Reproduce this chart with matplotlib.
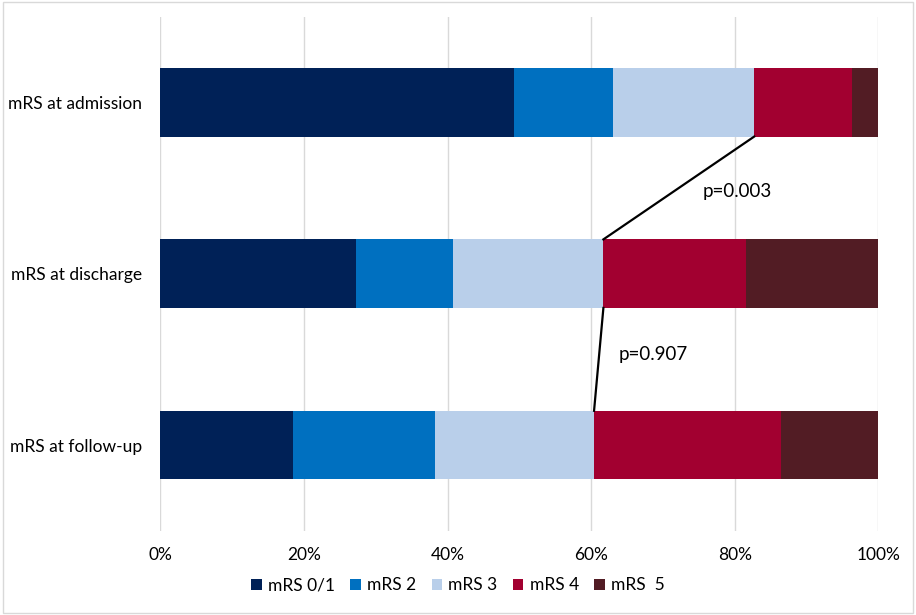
import numpy as np
import matplotlib
matplotlib.use("Agg")
import matplotlib.pyplot as plt
from matplotlib.patches import Rectangle

plt.rcParams['font.family'] = ['Lato', 'DejaVu Sans']

# ---- data (percent of patients per mRS grade) ----
stages = ["mRS at admission", "mRS at discharge", "mRS at follow-up"]
grades = ["mRS 0/1", "mRS 2", "mRS 3", "mRS 4", "mRS  5"]
colors = ["#002157", "#0070C0", "#B9CFEA", "#A20030", "#521C24"]

mrs01 = [49.3, 27.2, 18.5]
mrs2 = [13.7, 13.5, 19.8]
mrs3 = [19.7, 21.0, 22.1]
mrs4 = [13.6, 19.8, 26.0]
mrs5 = [3.7, 18.5, 13.6]

p_values = ["p=0.003", "p=0.907"]

series = [mrs01, mrs2, mrs3, mrs4, mrs5]

fig = plt.figure(figsize=(9.16, 6.15), dpi=100)
ax = fig.add_axes([0.175, 0.137, 0.784, 0.836])

y = np.arange(len(stages))
bar_h = 0.4
left = np.zeros(len(stages))
for vals, name, col in zip(series, grades, colors):
    ax.barh(y, vals, left=left, height=bar_h, color=col, label=name, zorder=2)
    left += np.array(vals)

# connector lines at the mRS 3 / mRS 4 boundary
split = np.array(mrs01) + np.array(mrs2) + np.array(mrs3)
for i in range(len(stages) - 1):
    ax.plot([split[i], split[i + 1]], [y[i] + bar_h / 2, y[i + 1] - bar_h / 2],
            color="black", lw=1.6, zorder=3)

ax.text(80.4, 0.52, p_values[0], fontsize=13.5, ha="center", va="center")
ax.text(68.6, 1.47, p_values[1], fontsize=13.5, ha="center", va="center")

ax.set_xlim(0, 100)
ax.set_ylim(2.5, -0.5)
ax.set_yticks(y)
ax.set_yticklabels(stages, fontsize=12.5)
ax.set_xticks(np.arange(0, 101, 20))
ax.set_xticklabels([f"{v}%" for v in range(0, 101, 20)], fontsize=12.5)
ax.tick_params(length=0)
ax.tick_params(axis="x", pad=12)
ax.tick_params(axis="y", pad=13)
ax.grid(axis="x", color="#D9D9D9", lw=1, zorder=0)
for s in ax.spines.values():
    s.set_visible(False)

handles, labels = ax.get_legend_handles_labels()
fig.legend(handles, labels, loc="center", bbox_to_anchor=(0.5, 0.048), ncol=5,
           frameon=False, fontsize=12.5, handlelength=0.6, handleheight=0.6,
           handletextpad=0.35, columnspacing=0.9)

fig.patches.append(Rectangle((0.003, 0.004), 0.994, 0.992, transform=fig.transFigure,
                             fill=False, edgecolor="#D9D9D9", lw=1))

fig.savefig("out.png", dpi=100)
